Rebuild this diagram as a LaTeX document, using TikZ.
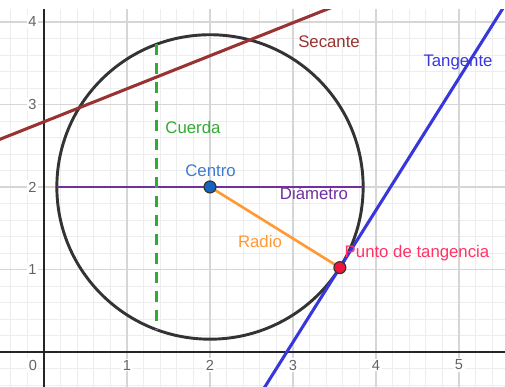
\documentclass[tikz,border=0pt]{standalone}
\usepackage{fontspec}
\setmainfont{Liberation Sans}
\usetikzlibrary{positioning}

\definecolor{secred}{RGB}{153,51,51}
\definecolor{tanblue}{RGB}{55,55,220}
\definecolor{diampurple}{RGB}{112,48,160}
\definecolor{radorange}{RGB}{255,153,51}
\definecolor{chordgreen}{RGB}{51,170,51}
\definecolor{ctrblue}{RGB}{21,101,192}
\definecolor{ctrlabel}{RGB}{61,123,208}
\definecolor{ptred}{RGB}{240,20,60}
\definecolor{ptlabel}{RGB}{255,51,102}
\definecolor{axisgray}{RGB}{37,37,37}
\definecolor{ticklabel}{RGB}{100,100,100}

\tikzset{
  lbl/.style={font=\fontsize{11.5}{13}\selectfont, inner sep=0pt},
  ticklbl/.style={font=\fontsize{10}{12}\selectfont, text=ticklabel, fill=white, inner sep=1pt},
  dot/.style={circle, draw=black!80, line width=0.8pt, minimum size=8.2pt, inner sep=0pt},
}

\begin{document}
\begin{tikzpicture}[x=2cm,y=1.988cm]
\useasboundingbox (-0.53,-0.424) rectangle (5.554,4.266);

\coordinate (c) at (2,2);
\coordinate (t) at ({2+1.845*cos(-32)},{2+1.845*sin(-32)});
\coordinate (d1) at (0.155,2);
\coordinate (d2) at (3.845,2);
\coordinate (q1) at (1.36,3.73);
\coordinate (q2) at (1.36,0.27);
\coordinate (s1) at (-0.6,2.55);
\coordinate (s2) at (3.6,4.23);
\coordinate (g1) at (2.613,-0.5);
\coordinate (g2) at (5.613,4.3);

\begin{scope}
\clip (-0.53,-0.424) rectangle (5.554,4.145);
% grid
\foreach \k in {-3,...,28}
  \draw[black!7,line width=0.5pt] (\k/5,-0.6) -- (\k/5,4.4);
\foreach \k in {-3,...,22}
  \draw[black!7,line width=0.5pt] (-0.6,\k/5) -- (5.6,\k/5);
\foreach \k in {1,...,5}
  \draw[black!16,line width=0.8pt] (\k,-0.6) -- (\k,4.4);
\foreach \k in {1,...,4}
  \draw[black!16,line width=0.8pt] (-0.6,\k) -- (5.6,\k);

\foreach \k in {1,...,5}
  \node[ticklbl] (xt\k) at (\k,-0.158) {\k};
\foreach \k in {1,...,4}
  \node[ticklbl] (yt\k) at (-0.139,\k) {\k};
\node[ticklbl] (o) at (-0.133,-0.158) {0};

\draw[axisgray,line width=1pt] (-0.6,0) -- (5.6,0);
\draw[axisgray,line width=1pt] (0,-0.6) -- (0,4.4);

% circle and lines
\draw[black!80,line width=2pt] (c) circle[radius=1.845];
\draw[secred,line width=2.1pt] (s1) -- (s2);
\draw[tanblue,line width=2.1pt] (g1) -- (g2);
\draw[diampurple,line width=1.9pt] (d1) -- (d2);
\draw[chordgreen,line width=2.1pt,dash pattern=on 7.5pt off 5.5pt] (q1) -- (q2);
\draw[radorange,line width=1.8pt] (c) -- (t);
\end{scope}

\node[dot,fill=ctrblue] (C) at (c) {};
\node[dot,fill=ptred] (T) at (t) {};

\node[lbl,text=secred] (secL) at (3.434,3.758) {Secante};
\node[lbl,text=tanblue] (tanL) at (4.988,3.503) {Tangente};
\node[lbl,text=chordgreen] (cueL) at (1.795,2.715) {Cuerda};
\node[lbl,text=ctrlabel] (ctrL) at (2.006,2.194) {Centro};
\node[lbl,text=diampurple] (diaL) at (3.253,1.927) {Diámetro};
\node[lbl,text=radorange] (radL) at (2.602,1.333) {Radio};
\node[lbl,text=ptlabel] (ptL) at (4.494,1.2) {Punto de tangencia};

\end{tikzpicture}
\end{document}
